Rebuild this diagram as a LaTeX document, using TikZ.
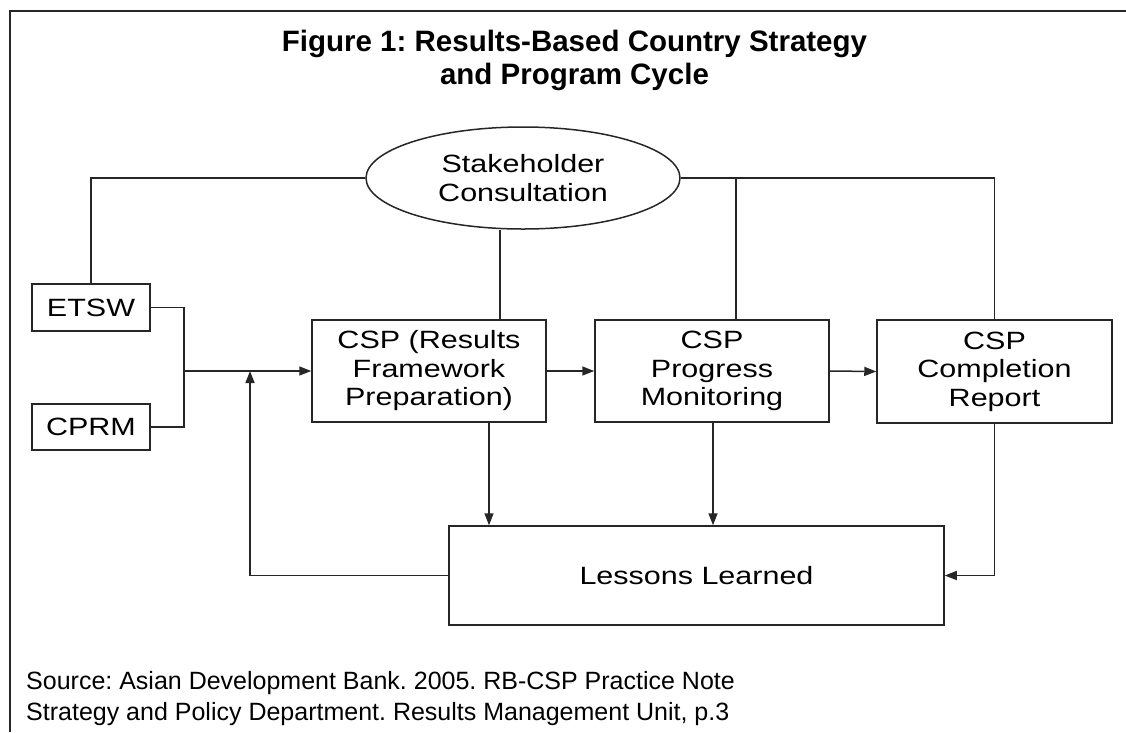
\documentclass[tikz,border=0pt]{standalone}
\usepackage{fontspec}
\setmainfont{Liberation Sans}
\newfontfamily\boxfont[FakeStretch=1.22]{Liberation Sans}
\usetikzlibrary{arrows.meta,shapes.geometric}
\frenchspacing

\begin{document}
\begin{tikzpicture}[x=1pt,y=-1pt,
  conn/.style={line width=1.5pt, draw=black!85},
  arr/.style={conn, -{Triangle[length=12pt,width=9pt]}},
  box/.style={draw=black!85, line width=1.5pt, rectangle, inner sep=0pt,
    align=center, font=\boxfont\fontsize{25}{28.5}\selectfont},
  oval/.style={box, ellipse},
  titletext/.style={font=\bfseries\fontsize{29.5}{33}\selectfont, anchor=base, inner sep=0pt},
  notetext/.style={font=\fontsize{25}{30}\selectfont, anchor=base west, inner sep=0pt},
]
\useasboundingbox (0,0) rectangle (1126,732);

% frame
\draw[line width=2.5pt, black!85] (1126,11) -- (10,11) -- (10,732);

% title
\node[titletext] (t1) at (574.5,51) {Figure 1: Results-Based Country Strategy};
\node[titletext] (t2) at (574.5,84) {and Program Cycle};

% nodes
\node[oval, minimum width=314pt, minimum height=102pt] (sc) at (523,178) {Stakeholder\\Consultation};
\node[box, minimum width=118pt, minimum height=47pt] (etsw) at (91,307.5) {ETSW};
\node[box, minimum width=118pt, minimum height=46pt] (cprm) at (91,427) {CPRM};
\node[box, minimum width=234pt, minimum height=102pt] (csp) at (429,371) {CSP (Results\\Framework\\Preparation)};
\node[box, minimum width=234pt, minimum height=102pt] (prog) at (712,371) {CSP\\Progress\\Monitoring};
\node[box, minimum width=235pt, minimum height=103pt] (comp) at (994.5,371.5) {CSP\\Completion\\Report};
\node[box, minimum width=495pt, minimum height=99pt] (les) at (696.5,575.5) {Lessons Learned};

% helper coordinates
\coordinate (join) at (184,371);
\coordinate (back) at (250,371);
\coordinate (xa) at (500,0);
\coordinate (xb) at (736,0);
\coordinate (xc) at (489,0);
\coordinate (xd) at (713,0);

% consultation links
\draw[conn] (sc.west) -| (etsw.north);
\draw[conn] (sc.east) -| (comp.north);
\draw[conn] (sc.south -| xa) -- (csp.north -| xa);
\draw[conn] (sc.east -| xb) -- (prog.north -| xb);

% inputs
\draw[conn] (etsw.east) -| (join) |- (cprm.east);
\draw[arr] (join) -- (csp.west);
\draw[arr] (csp.east) -- (prog.west);
\draw[arr] (prog.east) -- (comp.west);

% lessons
\draw[arr] (csp.south -| xc) -- (les.north -| xc);
\draw[arr] (prog.south -| xd) -- (les.north -| xd);
\draw[arr] (comp.south) |- (les.east);
\draw[arr] (les.west) -| (back);

% source note
\node[notetext] (s1) at (26,689) {Source: Asian Development Bank. 2005. RB-CSP Practice Note};
\node[notetext] (s2) at (26,720) {Strategy and Policy Department. Results Management Unit, p.3};
\end{tikzpicture}
\end{document}
